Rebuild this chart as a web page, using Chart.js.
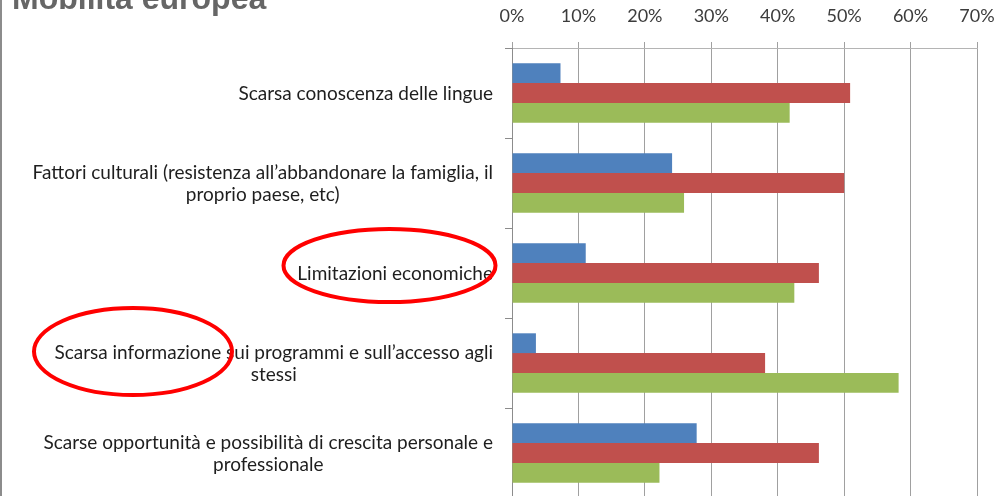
<!DOCTYPE html>
<html><head><meta charset="utf-8">
<script src="https://cdn.jsdelivr.net/npm/chart.js@4/dist/chart.umd.min.js"></script>
<style>
html,body{margin:0;padding:0;background:#fff;overflow:hidden;width:995px;height:496px;}
#wrap{position:relative;width:995px;height:496px;overflow:hidden;}
#c{position:absolute;left:0;top:0;}
#edge{position:absolute;left:0;top:0;width:2px;height:496px;background:#8c8c8c;}
</style></head><body>
<div id="wrap"><canvas id="c" width="995" height="500"></canvas><div id="edge"></div></div>
<script>
const titleText = 'Mobilità europea';
const categories = [
  'Scarsa conoscenza delle lingue',
  ['Fattori culturali (resistenza all’abbandonare la famiglia, il', 'proprio paese, etc)'],
  'Limitazioni economiche',
  ['Scarsa informazione sui programmi e sull’accesso agli', 'stessi'],
  ['Scarse opportunità e possibilità di crescita personale e', 'professionale']
];
const serie1 = [7.3, 24.1, 11.1, 3.6, 27.8];
const serie2 = [50.9, 50.0, 46.2, 38.1, 46.2];
const serie3 = [41.8, 25.9, 42.5, 58.2, 22.2];
const xTickLabels = ['0%', '10%', '20%', '30%', '40%', '50%', '60%', '70%'];

const LABEL_FONT = '19px Lato';

const labelPlugin = {
  id: 'labels',
  afterDraw(chart) {
    const ctx = chart.ctx;
    const ys = chart.scales.y;
    ctx.save();
    // title
    ctx.font = 'bold 32px "Liberation Sans"';
    ctx.fillStyle = '#666666';
    ctx.textBaseline = 'alphabetic';
    ctx.textAlign = 'left';
    ctx.fillText(titleText, 12, 9);
    // category labels: block right-aligned, lines centered within block
    ctx.font = LABEL_FONT;
    ctx.fillStyle = '#1e1e1e';
    ctx.textAlign = 'center';
    ctx.textBaseline = 'middle';
    const rightEdge = 493;
    const lh = 22;
    chart.data.labels.forEach((lab, i) => {
      const lines = Array.isArray(lab) ? lab : [lab];
      const w = Math.max(...lines.map(l => ctx.measureText(l).width));
      const cx = rightEdge - w / 2;
      const cy = ys.getPixelForValue(i);
      lines.forEach((l, j) => {
        ctx.fillText(l, cx, cy + (j - (lines.length - 1) / 2) * lh + 1);
      });
    });
    // red ellipses (annotation)
    ctx.strokeStyle = '#ff0000';
    ctx.lineWidth = 4;
    const ell = [
      {cat: 2, cx: 389.5, rx: 106, ry: 36.5, dy: -7.5},
      {cat: 3, cx: 133, rx: 99, ry: 43.5, dy: -11.5}
    ];
    ell.forEach(e => {
      const cy = ys.getPixelForValue(e.cat) + e.dy;
      ctx.beginPath();
      ctx.ellipse(e.cx, cy, e.rx, e.ry, 0, 0, Math.PI * 2);
      ctx.stroke();
    });
    ctx.restore();
  }
};

new Chart(document.getElementById('c'), {
  type: 'bar',
  data: {
    labels: categories,
    datasets: [
      {label: 'Serie 1', data: serie1, backgroundColor: '#4f81bd', borderWidth: 0},
      {label: 'Serie 2', data: serie2, backgroundColor: '#c0504d', borderWidth: 0},
      {label: 'Serie 3', data: serie3, backgroundColor: '#9bbb59', borderWidth: 0}
    ]
  },
  options: {
    indexAxis: 'y',
    responsive: false,
    animation: false,
    devicePixelRatio: 1,
    categoryPercentage: 0.66,
    barPercentage: 1.0,
    layout: {padding: {left: 0, right: 18, top: 0, bottom: 2}},
    plugins: {legend: {display: false}, title: {display: false}, tooltip: {enabled: false}},
    scales: {
      x: {
        type: 'linear',
        position: 'top',
        min: 0, max: 70,
        afterBuildTicks(scale) { scale.ticks = xTickLabels.map((t, i) => ({value: i * 10})); },
        ticks: {
          callback: (v, i) => xTickLabels[i],
          font: {family: 'Lato', size: 18, lineHeight: 1.2},
          color: '#3c3c3c',
          padding: 15,
          maxRotation: 0
        },
        grid: {color: '#a0a0a0', lineWidth: 1, tickLength: 6, drawTicks: true},
        border: {color: '#b4b4b4'},
        afterFit(scale) { scale.height = 48; scale.paddingLeft = 0; scale.paddingRight = 0; }
      },
      y: {
        type: 'category',
        offset: true,
        ticks: {display: false},
        grid: {offset: true, drawOnChartArea: false, drawTicks: true, tickLength: 7, color: '#8c8c8c'},
        border: {color: '#8c8c8c'},
        afterFit(scale) { scale.width = 512; }
      }
    }
  },
  plugins: [labelPlugin]
});
</script>
</body></html>
